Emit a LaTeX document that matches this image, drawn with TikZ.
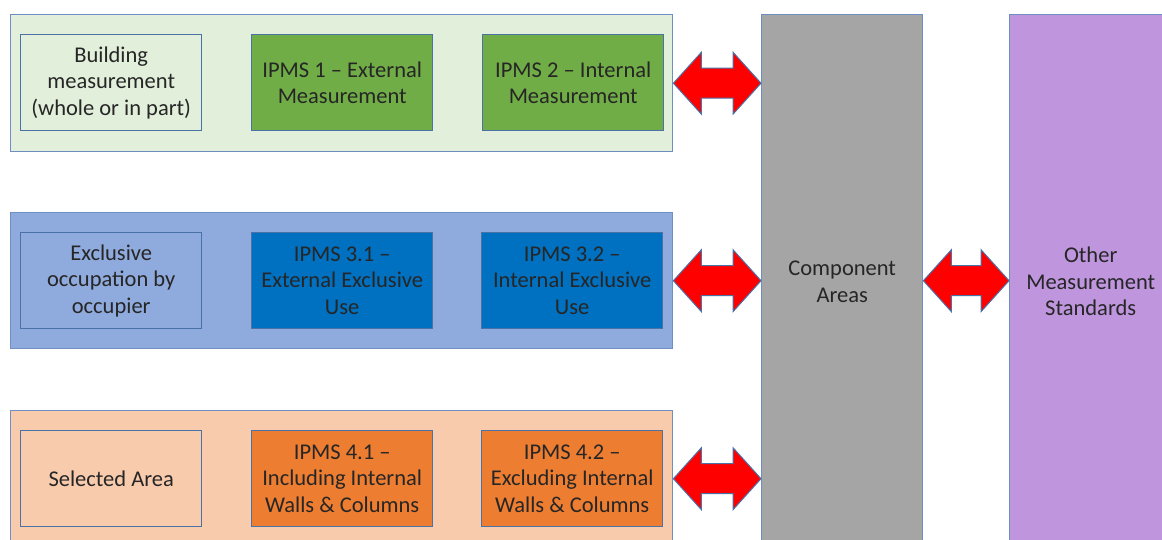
\documentclass[tikz,border=0pt]{standalone}
\usepackage{fontspec}
\setmainfont{Carlito}
\usetikzlibrary{calc}
\definecolor{edgeout}{HTML}{6F8EC2}
\definecolor{edgein}{HTML}{4A72A6}
\definecolor{txt}{HTML}{262626}
\definecolor{pgreen}{HTML}{E2EFDA}
\definecolor{bgreen}{HTML}{70AD47}
\definecolor{pblue}{HTML}{8FAADC}
\definecolor{bblue}{HTML}{0070C0}
\definecolor{porange}{HTML}{F8CBAD}
\definecolor{borange}{HTML}{ED7D31}
\definecolor{cgray}{HTML}{A5A5A5}
\definecolor{cpurple}{HTML}{BF95DE}
\definecolor{arrred}{HTML}{FF0000}
\newcommand\dblarrow[2]{%
  \path[dbl] let \p1=#1, \p2=#2 in
    (\x1,\y1) -- (\x1+28,\y1-31) -- (\x1+28,\y1-15) -- (\x2-28,\y1-15) -- (\x2-28,\y1-31)
    -- (\x2,\y1) -- (\x2-28,\y1+31) -- (\x2-28,\y1+15) -- (\x1+28,\y1+15) -- (\x1+28,\y1+31) -- cycle;}
\begin{document}
\begin{tikzpicture}[x=1pt,y=-1pt,
  panel/.style={draw=edgeout, line width=1.4pt, minimum width=662pt, minimum height=136pt, inner sep=0pt, anchor=north west},
  box/.style={draw=edgein, line width=1.4pt, minimum width=181pt, minimum height=96pt, inner sep=0pt, anchor=north west, align=center, text=txt, font=\fontsize{22.5}{26.5}\selectfont},
  column/.style={draw=edgeout, line width=1.4pt, minimum width=161pt, minimum height=534pt, inner sep=0pt, anchor=north west, align=center, text=txt, font=\fontsize{22.5}{26.5}\selectfont},
  dbl/.style={fill=arrred, draw=edgein, line width=1pt, line join=miter}
]
\useasboundingbox (0,0) rectangle (1162,540);
\clip (0,0) rectangle (1162,540);
% panels
\node[panel, fill=pgreen, minimum height=137pt] (p1) at (10,14) {};
\node[panel, fill=pblue] (p2) at (10,212) {};
\node[panel, fill=porange] (p3) at (10,410) {};
% boxes row 1
\node[box, fill=pgreen] (b11) at (20,34) {Building\\measurement\\(whole or in part)};
\node[box, fill=bgreen] (b12) at (251,34) {IPMS 1 -- External\\Measurement};
\node[box, fill=bgreen] (b13) at (482,34) {IPMS 2 -- Internal\\Measurement};
% row 2
\node[box, fill=pblue] (b21) at (20,232) {Exclusive\\occupation by\\occupier};
\node[box, fill=bblue] (b22) at (251,232) {IPMS 3.1 --\\External Exclusive\\Use};
\node[box, fill=bblue] (b23) at (481,232) {IPMS 3.2 --\\Internal Exclusive\\Use};
% row 3
\node[box, fill=porange] (b31) at (20,430) {Selected Area};
\node[box, fill=borange] (b32) at (251,430) {IPMS 4.1 --\\Including Internal\\Walls \& Columns};
\node[box, fill=borange] (b33) at (481,430) {IPMS 4.2 --\\Excluding Internal\\Walls \& Columns};
% columns
\node[column, fill=cgray] (comp) at (761,14) {Component\\Areas};
\node[column, fill=cpurple, minimum width=162pt] (other) at (1009,14) {Other\\Measurement\\Standards};
% arrows
\dblarrow{(p1.east)}{(comp.west)}
\dblarrow{(p2.east)}{(comp.west)}
\dblarrow{(p3.east)}{(comp.west)}
\dblarrow{(comp.east |- p2.east)}{(other.west)}
\end{tikzpicture}
\end{document}
